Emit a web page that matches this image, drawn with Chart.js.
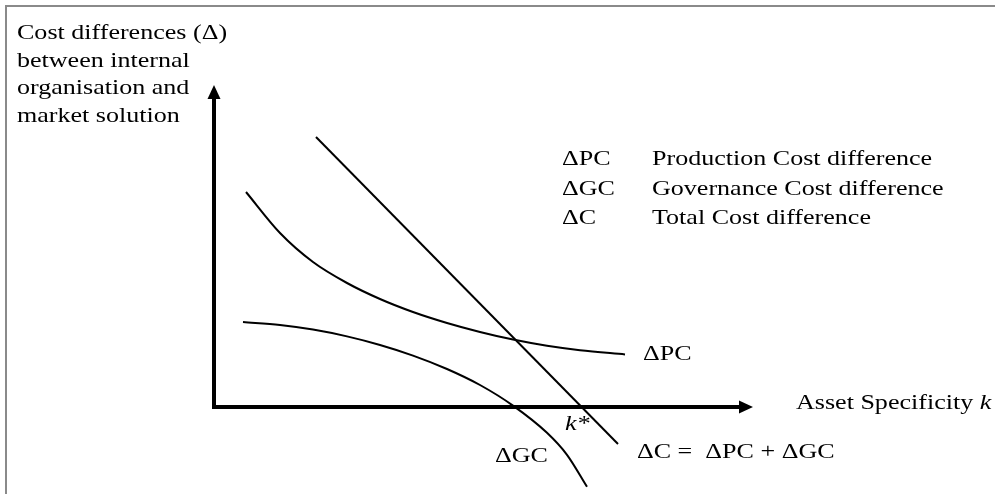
<!DOCTYPE html>
<html>
<head>
<meta charset="utf-8">
<script src="https://cdn.jsdelivr.net/npm/chart.js@4"></script>
<style>
  body { margin: 0; background: #fff; }
  #wrap { width: 995px; height: 494px; }
</style>
</head>
<body>
<div id="wrap"><canvas id="chart" width="995" height="494"></canvas></div>
<script>
// asset specificity k (horizontal) and cost difference (vertical)
const kPC = [0.64, 1.32, 1.98, 2.66, 3.32, 3.98, 4.66, 5.32, 5.98, 6.66, 7.32, 8.22]
const dPC = [5.375, 4.35, 3.625, 3.1, 2.7, 2.375, 2.1, 1.875, 1.685, 1.53, 1.42, 1.315]

const kGC = [0.58, 1.32, 1.98, 2.66, 3.32, 3.98, 4.66, 5.32, 5.98, 6.66, 7.06, 7.46]
const dGC = [2.125, 2.05, 1.935, 1.765, 1.55, 1.285, 0.95, 0.55, 0.035, -0.645, -1.195, -1.995]

const kC = [2.04, 8.08]
const dC = [6.75, -0.925]

// axis ends (arrow tips)
const kAxisEnd = 10.78
const dAxisEnd = 8.05

const yTitle = ["Cost differences (\u0394)", "between internal", "organisation and", "market solution"]
const legendKeys = ["\u0394PC", "\u0394GC", "\u0394C"]
const legendNames = ["Production Cost difference", "Governance Cost difference", "Total Cost difference"]

function toPoints(xs, ys) {
    return xs.map((x, i) => ({ x: x, y: ys[i] }))
}

const FONT = '21px "Liberation Serif", "Times New Roman", serif'
const ITALIC = 'italic 21px "Liberation Serif", "Times New Roman", serif'
const STRETCH = 1.24

function text(ctx, str, x, y, font) {
    ctx.save()
    ctx.font = font || FONT
    ctx.translate(x, y)
    ctx.scale(STRETCH, 1)
    ctx.fillText(str, 0, 0)
    let w = ctx.measureText(str).width * STRETCH
    ctx.restore()
    return w
}

function arrow(ctx, x1, y1, x2, y2) {
    let a = Math.atan2(y2 - y1, x2 - x1)
    let len = 14, half = 6.5
    let bx = x2 - len * Math.cos(a), by = y2 - len * Math.sin(a)
    ctx.beginPath()
    ctx.moveTo(x1, y1)
    ctx.lineTo(bx, by)
    ctx.stroke()
    ctx.beginPath()
    ctx.moveTo(x2, y2)
    ctx.lineTo(bx + half * Math.sin(a), by - half * Math.cos(a))
    ctx.lineTo(bx - half * Math.sin(a), by + half * Math.cos(a))
    ctx.closePath()
    ctx.fill()
}

const diagramPlugin = {
    id: 'diagram',
    beforeDraw(chart) {
        let ctx = chart.ctx
        ctx.save()
        ctx.fillStyle = '#fff'
        ctx.fillRect(0, 0, chart.width, chart.height)
        // frame
        ctx.strokeStyle = '#8a8a8a'
        ctx.lineWidth = 2
        ctx.beginPath()
        ctx.moveTo(6, chart.height)
        ctx.lineTo(6, 6)
        ctx.lineTo(chart.width, 6)
        ctx.stroke()
        ctx.restore()
    },
    afterDatasetsDraw(chart) {
        let ctx = chart.ctx
        let xs = chart.scales.x, ys = chart.scales.y
        let x0 = xs.getPixelForValue(0), y0 = ys.getPixelForValue(0)

        ctx.save()
        ctx.strokeStyle = '#000'
        ctx.fillStyle = '#000'
        ctx.lineWidth = 4
        ctx.lineCap = 'butt'
        arrow(ctx, x0, y0 + 2, x0, ys.getPixelForValue(dAxisEnd))
        arrow(ctx, x0 - 2, y0, xs.getPixelForValue(kAxisEnd), y0)

        ctx.fillStyle = '#000'
        ctx.textBaseline = 'alphabetic'

        // vertical axis title
        yTitle.forEach((s, i) => text(ctx, s, 17, 39 + i * 27.7))

        // key
        legendKeys.forEach((s, i) => {
            text(ctx, s, 562, 165 + i * 29.5)
            text(ctx, legendNames[i], 652, 165 + i * 29.5)
        })

        // horizontal axis title
        let w = text(ctx, "Asset Specificity ", 796, 409)
        text(ctx, "k", 796 + w, 409, ITALIC)

        // curve labels
        text(ctx, "\u0394PC", 643, 360)
        text(ctx, "\u0394GC", 495, 462)
        text(ctx, "\u0394C =  \u0394PC + \u0394GC", 637, 458)
        text(ctx, "k*", 565, 430, ITALIC)
        ctx.restore()
    }
}

const lineStyle = {
    showLine: true,
    pointRadius: 0,
    borderColor: '#000',
    borderWidth: 2,
    fill: false
}

const chart = new Chart(document.getElementById('chart'), {
    type: 'scatter',
    data: {
        datasets: [
            Object.assign({ label: '\u0394PC', data: toPoints(kPC, dPC), cubicInterpolationMode: 'monotone' }, lineStyle),
            Object.assign({ label: '\u0394GC', data: toPoints(kGC, dGC), cubicInterpolationMode: 'monotone' }, lineStyle),
            Object.assign({ label: '\u0394C', data: toPoints(kC, dC), tension: 0 }, lineStyle)
        ]
    },
    options: {
        responsive: false,
        animation: false,
        devicePixelRatio: 1,
        layout: { padding: 0 },
        scales: {
            x: { type: 'linear', min: -4.28, max: 15.62, display: false },
            y: { type: 'linear', min: -2.175, max: 10.175, display: false }
        },
        plugins: {
            legend: { display: false },
            tooltip: { enabled: false }
        }
    },
    plugins: [diagramPlugin]
})
</script>
</body>
</html>
